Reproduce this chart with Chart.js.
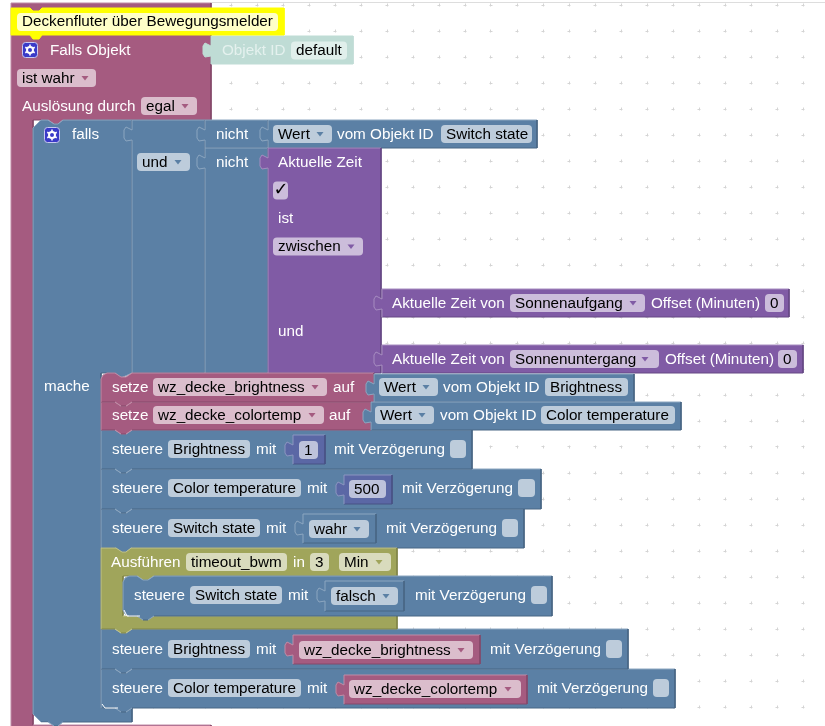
<!DOCTYPE html>
<html><head><meta charset="utf-8">
<style>html,body{margin:0;padding:0;background:#fff;overflow:hidden}canvas{display:block}</style>
<script src="https://cdn.jsdelivr.net/npm/chart.js@4"></script>
</head><body><canvas id="c" width="825" height="726"></canvas>
<script>
// Workspace dot grid
const gridX = [23,49,75,101,127,153,179,205,231,257,283,309,335,361,387,413,439,465,491,517,543,569,595,621,647,673,699,725,751,777,803];
const gridY = [5,31,57,83,109,135,161,187,213,239,265,291,317,343,369,395,421,447,473,499,525,551,577,603,629,655,681,707];

// Statement blocks: hue, left, top, right, bottom
const statementBlocks = [
  ['pink',101,373,374,402],
  ['pink',101,402,371,430],
  ['blue',101,430,472,469],
  ['blue',101,469,541,509],
  ['blue',101,509,524,548],
  ['blue',101,629,628,669],
  ['blue',101,669,675,708],
  ['blue',123,576,552,616]
];
// Value blocks: hue, left, top, right, bottom
const valueBlocks = [
  ['teal',211,36,353,64],
  ['blue',132,120,205,373],
  ['blue',205,120,268,148],
  ['blue',205,148,268,373],
  ['blue',268,120,537,148],
  ['purple',268,148,381,373],
  ['purple',382,289,789,317],
  ['purple',382,345,803,373],
  ['blue',374,374,634,402],
  ['blue',371,402,681,430],
  ['math',293,435,325,464],
  ['math',344,475,392,504],
  ['blue',303,514,376,543],
  ['blue',325,581,404,611],
  ['pink',293,635,480,664],
  ['pink',344,675,527,704]
];
// Free-form outlines
const triggerOutline = [[11,3],[211,3],[211,120],[63,120],[58,124],[54,124],[48,120],[33,120],[33,725],[211,725],[211,727],[11,727]];
const fallsOutline = [[41,120],[48,120],[54,124],[58,124],[63,120],[132,120],[132,373],[132,373],[121,378],[115,373],[101,373],[101,708],[132,708],[132,722],[63,722],[58,726],[54,726],[48,722],[41,722],[33,714],[33,128]];
const olivePart = [[101,548],[116,548],[122,552],[126,552],[131,548],[397,548],[397,576],[154,576],[148,580],[143,580],[137,576],[123,576],[123,616],[397,616],[397,629],[132,629],[126,633],[121,633],[115,629],[101,629]];
const commentOutline = [[11,8],[30,8],[33,11],[39,11],[42,8],[284,8],[284,35],[42,35],[39,39],[33,39],[30,35],[11,35]];
const topEdge = [[211,2.5],[825,2.5]];
const whiteCorners = [[[102,704],[105,708],[118,708]],[[34,716],[41,723],[48,723]],[[124,610],[127,616],[140,616]]];

// Fields: text, left, right, centre y, hue, arrow x
const fields = [
  ['ist wahr',17,96,78,'pink',85],['egal',141,197,106,'pink',185],
  ['und',137,190,162,'blue',178],['Wert',273,332,134,'blue',320],['Switch state',441,532,134,'blue',0],
  ['zwischen',273,363,246.5,'purple',351],
  ['Sonnenaufgang',510,645,303,'purple',633],['0',765,784,303,'purple',0],
  ['Sonnenuntergang',510,659,359,'purple',645],['0',778,797,359,'purple',0],
  ['wz_decke_brightness',153,327,387,'pink',315],['Wert',379,438,387,'blue',426],['Brightness',545,628,387,'blue',0],
  ['wz_decke_colortemp',153,324,415,'pink',312],['Wert',375,434,415,'blue',422],['Color temperature',541,675,415,'blue',0],
  ['Brightness',168,250,449,'blue',0],['1',299,318,450,'math',0],
  ['Color temperature',168,301,488,'blue',0],['500',349,386,489,'math',0],
  ['Switch state',168,260,528,'blue',0],['wahr',309,369,529,'blue',357],
  ['timeout_bwm',186,287,562,'olive',0],['3',310,329,562,'olive',0],['Min',339,391,562,'olive',379],
  ['Switch state',190,282,595,'blue',0],['falsch',331,398,596,'blue',386],
  ['Brightness',168,250,649,'blue',0],['wz_decke_brightness',299,473,650,'pink',461],
  ['Color temperature',168,301,688,'blue',0],['wz_decke_colortemp',349,521,689,'pink',508],
  ['default',291,347,50.5,'teal',0]
];
// Labels on blocks: text, x, centre y
const labels = [
  ['Falls Objekt',50,50],['Auslösung durch',22,106],['falls',72,134],['nicht',216,134],['nicht',216,162],
  ['vom Objekt ID',337,134],['Aktuelle Zeit',278,162],['ist',278,218],['und',278,331],
  ['Aktuelle Zeit von',392,303],['Offset (Minuten)',651,303],['Aktuelle Zeit von',392,359],['Offset (Minuten)',665,359],
  ['mache',44,386],['setze',112,387],['auf',333,387],['vom Objekt ID',443,387],['setze',112,415],['auf',329,415],['vom Objekt ID',440,415],
  ['steuere',112,449],['mit',256,449],['mit Verzögerung',334,449],
  ['steuere',112,488],['mit',307,488],['mit Verzögerung',402,488],
  ['steuere',112,528],['mit',266,528],['mit Verzögerung',386,528],
  ['Ausführen',111,562],['in',293,562],
  ['steuere',134,595],['mit',288,595],['mit Verzögerung',415,595],
  ['steuere',112,649],['mit',256,649],['mit Verzögerung',490,649],
  ['steuere',112,688],['mit',307,688],['mit Verzögerung',537,688]
];
// Checkboxes: left, right, centre y, hue, ticked
const checkboxes = [[273,288,190.5,'purple',true],[450,466,449,'blue',false],[518,535,488,'blue',false],[502,518,528,'blue',false],[531,547,595,'blue',false],[606,622,649,'blue',false],[653,669,688,'blue',false]];
// Settings icons: left, top
const gears = [[22,42],[44,127]];

const hues = {
  pink:{f:'#a55b80',l:'#c08ca6',d:'#84496a',t:'#dbbdcc',a:'#a55b80'},
  blue:{f:'#5b80a5',l:'#8ca6c0',d:'#496684',t:'#bdccdb',a:'#5b80a5'},
  purple:{f:'#805ba5',l:'#a68cc0',d:'#664984',t:'#ccbddb',a:'#805ba5'},
  math:{f:'#5b67a5',l:'#8c95c0',d:'#495284',t:'#bdc2db',a:'#5b67a5'},
  olive:{f:'#a0a55b',l:'#c0c38c',d:'#808449',t:'#d9dbbd',a:'#a0a55b'},
  teal:{f:'#bfdcd5',l:'#bfdcd5',d:'#bfdcd5',t:'#e0efeb',a:'#bfdcd5'},
  yellow:{f:'#ffff00',l:'#ffff00',d:'#ffff00',t:'#ffffc7',a:'#ffff00'}
};
const FONT = '15.25px "Liberation Sans", Arial, sans-serif';

function statementOutline(x0,y0,x1,y1,roundTop,roundBottom){
  const head = roundTop ? [[x0,y0+6],[x0+2,y0+2],[x0+6,y0]] : [[x0,y0]];
  const tail = roundBottom ? [[x0+6,y1],[x0+2,y1-2],[x0,y1-6]] : [[x0,y1]];
  return [...head,[x0+14,y0],[x0+20,y0+4],[x0+25,y0+4],[x0+31,y0],[x1,y0],[x1,y1],[x0+31,y1],[x0+25,y1+4],[x0+20,y1+4],[x0+14,y1],...tail];
}
function valueOutline(x0,y0,x1,y1){
  return [[x0,y0],[x1,y0],[x1,y1],[x0,y1],[x0,y0+20],[x0-6,y0+21],[x0-8,y0+18],[x0-8,y0+10],[x0-6,y0+7],[x0,y0+10]];
}
const datasets = [];
const base = {showLine:true,tension:0,pointRadius:0};
function add(pts,hue,closed=true,color){
  const h = hues[hue]||{f:color,l:color,d:color};
  const data = pts.map(p=>({x:p[0],y:p[1]}));
  if(closed){
    data.push({x:pts[0][0],y:pts[0][1]});
    datasets.push({...base,data,borderWidth:0,fill:'shape',backgroundColor:h.f,borderColor:h.f});
  }
  // bevelled edge: light on top and left, dark on right and bottom
  datasets.push({...base,data,borderWidth:1,fill:false,borderColor:h.l,
    segment:{borderColor:c=>{
      const dx=c.p1.parsed.x-c.p0.parsed.x, dy=c.p1.parsed.y-c.p0.parsed.y;
      return ((dx===0&&dy>0)||(dy===0&&dx<0))?h.d:h.l;}}});
}
const addValue = b=>add(valueOutline(b[1],b[2],b[3],b[4]),b[0]);
add(topEdge,null,false,'#dddddd');
add(triggerOutline,'pink');
add(fallsOutline,'blue');
addValue(valueBlocks[0]);
add(commentOutline,'yellow');
valueBlocks.slice(1,8).forEach(addValue);
[6,5,4,3,2,1,0].forEach(i=>{ // lower stack blocks first so bumps sit on top
  const b=statementBlocks[i]; add(statementOutline(b[1],b[2],b[3],b[4],i===0,false),b[0]);});
add(olivePart,'olive');
{const b=statementBlocks[7]; add(statementOutline(b[1],b[2],b[3],b[4],true,true),b[0]);}
valueBlocks.slice(8).forEach(addValue);
whiteCorners.forEach(w=>add(w,null,false,'#ffffff'));
datasets.forEach((d,i)=>d.order=datasets.length-i);

const textPlugin = {id:'blockText',afterDatasetsDraw(chart){
  const {ctx,scales:{x,y}}=chart, X=v=>x.getPixelForValue(v), Y=v=>y.getPixelForValue(v);
  ctx.save();
  ctx.textBaseline='middle'; ctx.font=FONT;
  const rr=(a,b,c,d,col)=>{ctx.fillStyle=col;ctx.beginPath();ctx.roundRect(X(a),Y(b),X(c)-X(a),Y(d)-Y(b),4);ctx.fill();};
  rr(17,13,278,31,hues.yellow.t);
  ctx.fillStyle='#000';ctx.fillText('Deckenfluter über Bewegungsmelder',X(22),Y(22));
  fields.forEach(([t,a,b,yc,h,ar])=>{
    rr(a,yc-9,b,yc+9,hues[h].t);
    ctx.fillStyle='#000';ctx.fillText(t,X(a+5),Y(yc+0.5));
    if(ar){ctx.fillStyle=hues[h].a;ctx.beginPath();ctx.moveTo(X(ar-3.5),Y(yc-2));ctx.lineTo(X(ar+3.5),Y(yc-2));ctx.lineTo(X(ar),Y(yc+2.5));ctx.closePath();ctx.fill();}
  });
  labels.forEach(([t,a,yc])=>{ctx.fillStyle='#fff';ctx.fillText(t,X(a),Y(yc+0.5));});
  ctx.fillStyle='#e4f1ee';ctx.fillText('Objekt ID',X(222),Y(50.5));
  checkboxes.forEach(([a,b,yc,h,on])=>{
    rr(a,yc-9,b,yc+9,hues[h].t);
    if(on){ctx.fillStyle='#000';ctx.font='18px "DejaVu Sans"';ctx.fillText('✓',X(a+0.5),Y(yc));ctx.font=FONT;}
  });
  gears.forEach(([a,b])=>{
    ctx.fillStyle='#3a3ac8';ctx.strokeStyle='#c8c8f0';ctx.lineWidth=1;
    ctx.beginPath();ctx.roundRect(X(a)+.5,Y(b)+.5,15,15,3);ctx.fill();ctx.stroke();
    const cx=X(a+8),cy=Y(b+8);
    ctx.strokeStyle='#fff';ctx.lineWidth=2;ctx.beginPath();ctx.arc(cx,cy,3,0,7);ctx.stroke();
    ctx.lineWidth=1.6;
    for(let k=0;k<6;k++){const g=k*Math.PI/3+Math.PI/6;ctx.beginPath();ctx.moveTo(cx+3.5*Math.cos(g),cy+3.5*Math.sin(g));ctx.lineTo(cx+5.5*Math.cos(g),cy+5.5*Math.sin(g));ctx.stroke();}
  });
  ctx.restore();
}};

const axis = (min,max,list,reverse)=>({type:'linear',min,max,reverse,display:true,
  afterBuildTicks:s=>{s.ticks=list.map(v=>({value:v}));},
  ticks:{display:false},
  grid:{color:'#d4d4d4',lineWidth:1,drawTicks:false,tickLength:0}});
const xAxis = axis(0,825,gridX,false);
xAxis.border={display:false,dash:[3,23],dashOffset:22.5};
const yAxis = axis(0,726,gridY,true);
yAxis.border={display:false,dash:[3,23],dashOffset:4.5};

new Chart(document.getElementById('c'),{
  type:'scatter',
  data:{datasets},
  options:{responsive:false,animation:false,devicePixelRatio:1,
    layout:{padding:0},
    plugins:{legend:{display:false},tooltip:{enabled:false},title:{display:false}},
    scales:{x:xAxis,y:yAxis}},
  plugins:[textPlugin]
});
</script></body></html>
